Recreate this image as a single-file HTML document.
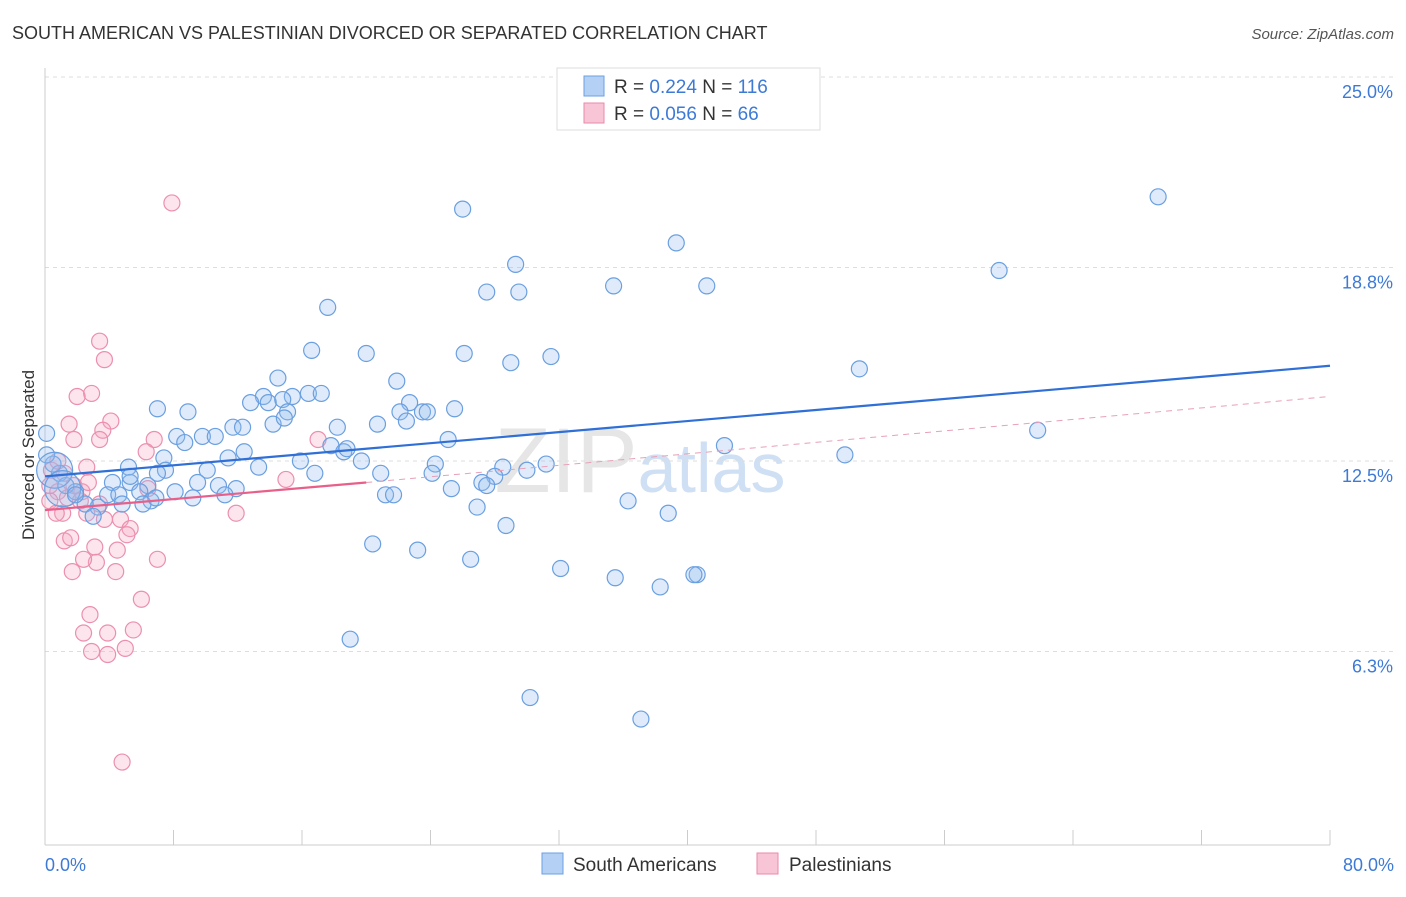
<!DOCTYPE html>
<html><head><meta charset="utf-8"><style>
body{margin:0;background:#fff;font-family:"Liberation Sans",sans-serif;}
svg text{font-family:"Liberation Sans",sans-serif;}
</style></head><body>
<svg width="1406" height="892" viewBox="0 0 1406 892">
<text x="12" y="39" font-size="18" fill="#333">SOUTH AMERICAN VS PALESTINIAN DIVORCED OR SEPARATED CORRELATION CHART</text>
<text x="1394" y="39" font-size="15" fill="#555" font-style="italic" text-anchor="end">Source: ZipAtlas.com</text>
<text x="640" y="492" font-size="92" fill="#e6e6e6" font-family="Liberation Serif" text-anchor="middle">ZIP<tspan fill="#cfe0f5" font-family="Liberation Sans" font-size="70">atlas</tspan></text>
<g id="grid"></g>
<g id="axes"></g>
<g id="pts"></g>
<g id="lines"></g>
<text x="0" y="0" transform="translate(34,455) rotate(-90)" font-size="17" fill="#333" text-anchor="middle">Divorced or Separated</text>
<g>
<rect x="557" y="68" width="263" height="62" fill="#fff" stroke="#ddd"/>
<rect x="584" y="76" width="20" height="20" fill="#b5d0f5" stroke="#6a9fe0"/>
<rect x="584" y="103" width="20" height="20" fill="#f8c5d6" stroke="#e88aa8"/>
<text x="614" y="93" font-size="19" fill="#333">R = <tspan fill="#3d7ad6">0.224</tspan>   N = <tspan fill="#3d7ad6">116</tspan></text>
<text x="614" y="120" font-size="19" fill="#333">R = <tspan fill="#3d7ad6">0.056</tspan>   N =  <tspan fill="#3d7ad6">66</tspan></text>
</g>
<g>
<rect x="542" y="853" width="21" height="21" fill="#b5d0f5" stroke="#6a9fe0"/>
<text x="573" y="871" font-size="19" fill="#333">South Americans</text>
<rect x="757" y="853" width="21" height="21" fill="#f8c5d6" stroke="#e88aa8"/>
<text x="789" y="871" font-size="19" fill="#333">Palestinians</text>
</g>
</svg>
<script>
const yTicks=[25.0,18.8,12.5,6.3];
const yTickLabels=["25.0%","18.8%","12.5%","6.3%"];
const xTickLabels=["0.0%","80.0%"];
const blueX=[69.3,26.0,39.3,29.3,59.4,27.5,29.5,35.4,41.2,17.6,16.6,20.0,26.1,29.0,31.5,50.7,14.5,21.9,13.6,15.4,16.4,17.2,12.8,13.9,14.8,7.0,8.9,15.1,22.7,22.1,23.5,23.8,25.5,22.5,20.7,14.2,11.7,12.3,18.2,61.8,8.2,9.8,10.6,8.7,17.8,18.6,18.8,25.1,42.3,49.8,7.4,12.4,11.4,13.3,15.9,19.7,24.3,31.2,5.2,7.5,10.1,16.8,20.9,24.1,28.5,30.0,28.0,27.2,27.5,25.3,4.2,5.3,6.4,9.5,10.8,11.9,8.1,5.9,3.9,4.6,9.2,11.2,21.2,21.7,36.3,6.6,6.1,4.8,3.3,2.5,1.9,0.9,0.5,1.3,3.0,26.9,38.8,28.7,20.4,23.2,26.5,32.1,35.5,40.6,40.4,38.3,19.0,30.2,37.1,0.1,0.1,0.6,1.1,1.9,5.3,7.0,14.9,6.9];
const blueY=[21.1,20.7,19.6,18.9,18.7,18.0,18.0,18.2,18.2,17.5,16.1,16.0,16.0,15.7,15.9,15.5,15.2,15.1,14.6,14.6,14.7,14.7,14.4,14.4,14.5,14.2,14.1,14.1,14.4,14.1,14.1,14.1,14.2,13.8,13.7,13.7,13.6,13.6,13.6,13.5,13.3,13.3,13.3,13.1,13.0,12.8,12.9,13.2,13.0,12.7,12.6,12.8,12.6,12.3,12.5,12.5,12.4,12.4,12.3,12.2,12.2,12.1,12.1,12.1,12.3,12.2,12.0,11.8,11.7,11.6,11.8,11.8,11.7,11.8,11.7,11.6,11.5,11.5,11.4,11.4,11.3,11.4,11.4,11.4,11.2,11.2,11.1,11.1,11.0,11.1,11.5,12.1,12.4,11.7,10.7,11.0,10.8,10.4,9.8,9.6,9.3,9.0,8.7,8.8,8.8,8.4,6.7,4.8,4.1,13.4,12.7,12.2,11.6,11.4,12.0,12.1,13.9,11.3];
const blueR=blueX.map((x,i)=>i>=111&&i<=112?18:8);
const pinkX=[7.9,3.4,3.7,2.9,2.0,1.5,4.1,3.6,3.4,1.8,6.8,17.0,6.3,2.6,0.4,1.2,15.0,6.4,0.8,1.4,2.3,0.3,3.4,1.1,2.6,11.9,4.7,3.7,0.7,5.3,5.1,1.2,1.6,3.1,4.5,7.0,1.7,3.2,4.4,2.4,6.0,2.8,2.4,3.9,5.5,2.9,3.9,5.0,4.8,1.8,2.2,0.3,0.8,2.7];
const pinkY=[20.9,16.4,15.8,14.7,14.6,13.7,13.8,13.5,13.2,13.2,13.2,13.2,12.8,12.3,12.2,12.1,11.9,11.6,11.5,11.3,11.5,11.2,11.1,10.8,10.8,10.8,10.6,10.6,10.8,10.3,10.1,9.9,10.0,9.7,9.6,9.3,8.9,9.2,8.9,9.3,8.0,7.5,6.9,6.9,7.0,6.3,6.2,6.4,2.7,11.7,11.2,11.7,12.5,11.8];
const blueTrend=[[0,12.0],[80,15.6]];
const pinkTrendSolid=[[0,10.9],[20,11.8]];
const pinkTrendDash=[[20,11.8],[80,14.6]];
const NS="http://www.w3.org/2000/svg";
const X0=45,X1=1330,Y0=845,PXY=30.72;
const xs=v=>X0+v/80*(X1-X0);
const ys=v=>Y0-v*PXY;
function mk(tag,attrs,parent){const e=document.createElementNS(NS,tag);for(const k in attrs)e.setAttribute(k,attrs[k]);parent.appendChild(e);return e;}
const grid=document.getElementById('grid'),axes=document.getElementById('axes'),pts=document.getElementById('pts'),lines=document.getElementById('lines');
yTicks.forEach((t,i)=>{
 const l=mk('line',{x1:X0,x2:1394,y1:ys(t),y2:ys(t),stroke:'#ddd','stroke-dasharray':'4 4'},grid);
 
 
 const tx=mk('text',{x:1393,y:ys(t)+21,'font-size':18,fill:'#3d7ad6','text-anchor':'end'},axes);
 tx.textContent=yTickLabels[i];
 
 
});
mk('line',{x1:X0,x2:X0,y1:68,y2:Y0,stroke:'#ccc'},axes);
mk('line',{x1:X0,x2:X1,y1:Y0,y2:Y0,stroke:'#ccc'},axes);
for(let i=0;i<=10;i++){const x=xs(i*8);const t=mk('line',{x1:x,x2:x,y1:830,y2:Y0,stroke:'#ccc'},axes);
 
 }
[[0,'start',45],[80,'end',1394]].forEach((a,i)=>{const t=mk('text',{x:a[2],y:871,'font-size':18,fill:'#3d7ad6','text-anchor':a[1]},axes);t.textContent=xTickLabels[i];
 
 });
pinkX.forEach((x,i)=>{const c=mk('circle',{cx:xs(x),cy:ys(pinkY[i]),r:8,fill:'rgba(244,170,196,0.3)',stroke:'#ec8fae','stroke-width':1.2},pts);
 
 });
blueX.forEach((x,i)=>{const c=mk('circle',{cx:xs(x),cy:ys(blueY[i]),r:blueR[i],fill:'rgba(150,190,240,0.3)',stroke:'#6a9fe0','stroke-width':1.2},pts);
 
 });
function tl(p,st,dash,w,name){const l=mk('line',{x1:xs(p[0][0]),y1:ys(p[0][1]),x2:xs(p[1][0]),y2:ys(p[1][1]),stroke:st,'stroke-width':w},lines);if(dash)l.setAttribute('stroke-dasharray',dash);
 
 }
tl(pinkTrendDash,'#e8a0b8','6 5',1,'palestinian-trend-extension');
tl(blueTrend,'#2f6fd6',null,2.2,'south-american-trend');
tl(pinkTrendSolid,'#e8608a',null,2.2,'palestinian-trend');
</script>
</body></html>
